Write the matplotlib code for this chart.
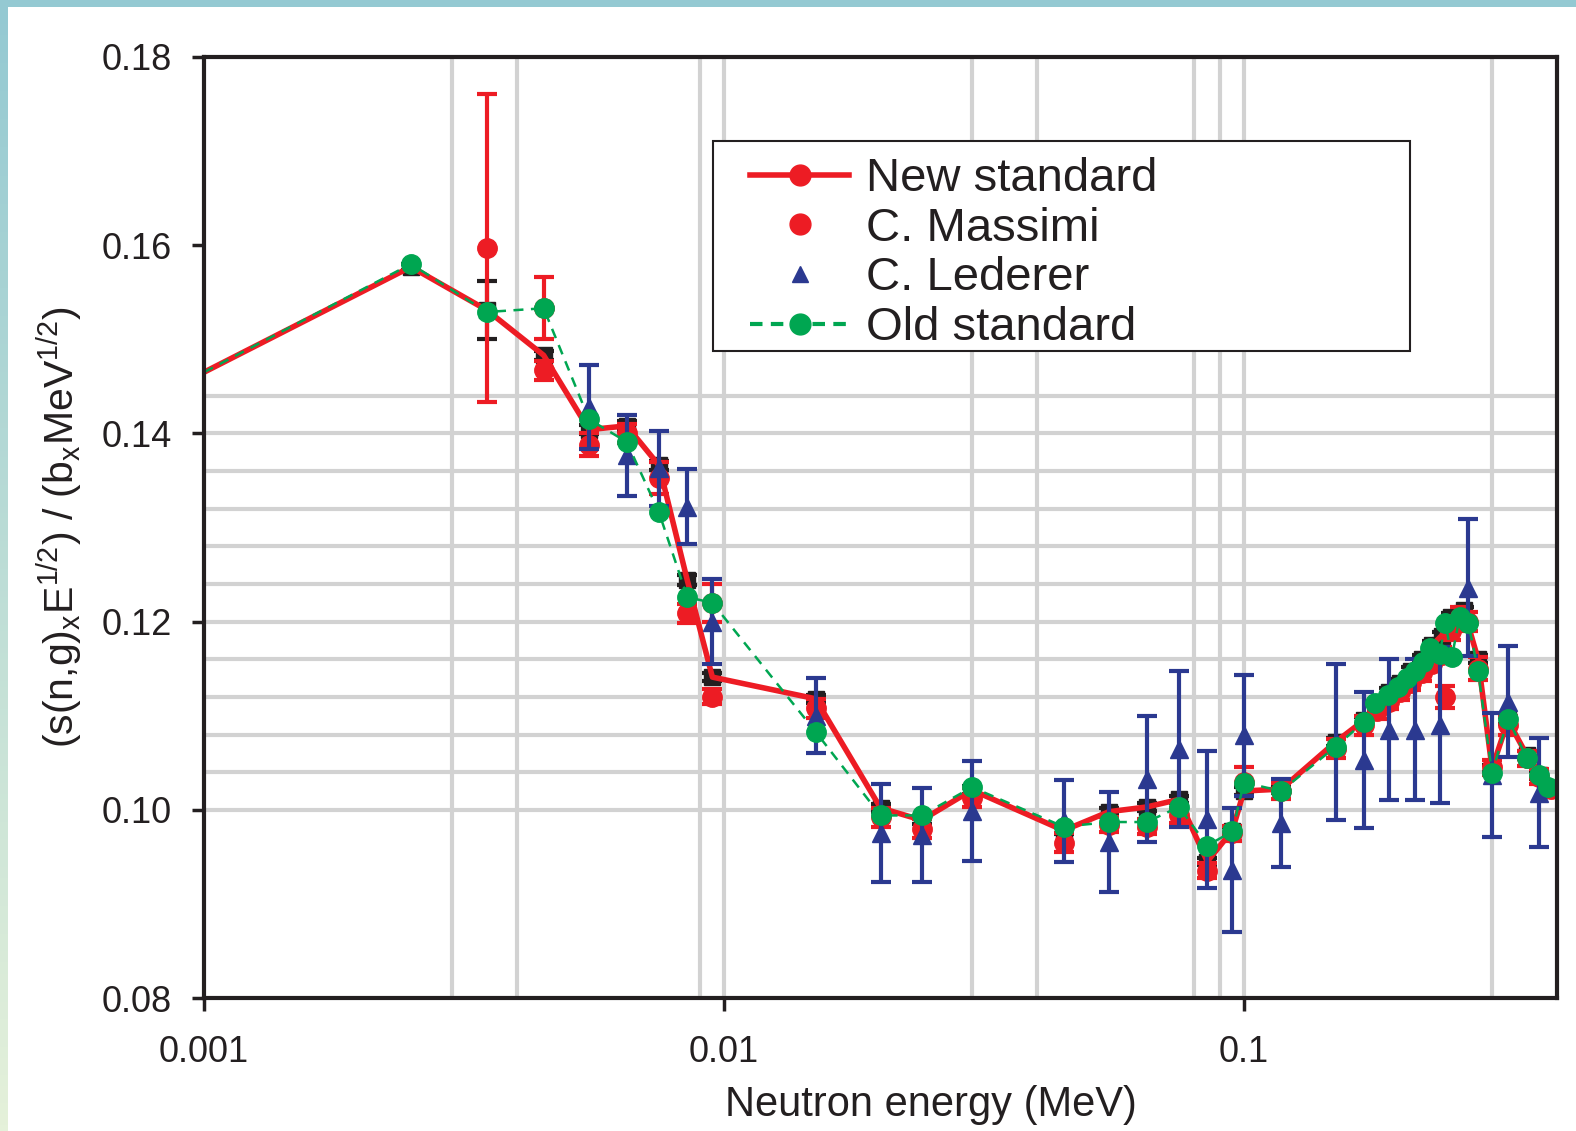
import numpy as np
import matplotlib
matplotlib.use('Agg')
import matplotlib.pyplot as plt
from matplotlib.lines import Line2D
from matplotlib.patches import Rectangle
from matplotlib.ticker import NullLocator

plt.rcParams['font.family'] = ['Liberation Sans', 'DejaVu Sans']
plt.rcParams['mathtext.fontset'] = 'custom'
plt.rcParams['mathtext.rm'] = 'Liberation Sans'
plt.rcParams['mathtext.it'] = 'Liberation Sans:italic'
plt.rcParams['mathtext.default'] = 'regular'

# ---------------- data ----------------
# New standard (red line; black squares with small error bars underneath)
new_E = [0.001, 0.0025, 0.0035, 0.0045, 0.0055, 0.0065, 0.0075, 0.0085, 0.0095,
         0.015, 0.02, 0.024, 0.03, 0.045, 0.055, 0.065, 0.075, 0.085, 0.095, 0.1,
         0.118, 0.15, 0.17, 0.18, 0.19, 0.2, 0.21, 0.22, 0.23, 0.24, 0.25, 0.265,
         0.282, 0.3, 0.322, 0.35, 0.37, 0.39]
new_val = [0.1465, 0.1577, 0.1531, 0.1483, 0.1404, 0.1408, 0.1366, 0.1244, 0.1141,
           0.1118, 0.1002, 0.0989, 0.1021, 0.0978, 0.0998, 0.1003, 0.1011, 0.0945, 0.0978, 0.1020,
           0.1022, 0.1072, 0.1095, 0.1110, 0.1125, 0.1135, 0.1148, 0.1160, 0.1175, 0.1185, 0.1205, 0.1212,
           0.1160, 0.1044, 0.1095, 0.1058, 0.1037, 0.1022]
new_err = [0.0, 0.0003, 0.0031, 0.0005, 0.0005, 0.0005, 0.0005, 0.0005, 0.0004,
           0.0004, 0.0004, 0.0004, 0.0004, 0.0004, 0.0004, 0.0004, 0.0004, 0.0004, 0.0004, 0.0004,
           0.0004, 0.0004, 0.0004, 0.0004, 0.0004, 0.0004, 0.0004, 0.0004, 0.0004, 0.0004, 0.0004, 0.0004,
           0.0004, 0.0004, 0.0004, 0.0004, 0.0004, 0.0004]

# C. Massimi (red circles)
mas_E = [0.0035, 0.0045, 0.0045, 0.0055, 0.0065, 0.0075, 0.0085, 0.0095, 0.0095,
         0.015, 0.02, 0.024, 0.03, 0.045, 0.055, 0.065, 0.075, 0.085, 0.095, 0.1,
         0.118, 0.15, 0.17, 0.18, 0.19, 0.2, 0.21, 0.22, 0.23, 0.24, 0.244, 0.25,
         0.26, 0.27, 0.282, 0.3, 0.322, 0.35, 0.37, 0.39]
mas_val = [0.1597, 0.1467, 0.1533, 0.1388, 0.1400, 0.1353, 0.1209, 0.1120, 0.1220,
           0.1108, 0.0992, 0.0980, 0.1013, 0.0965, 0.0984, 0.0982, 0.0994, 0.0935, 0.0975, 0.1030,
           0.1020, 0.1065, 0.1090, 0.1105, 0.1115, 0.1125, 0.1135, 0.1145, 0.1155, 0.1165, 0.1120, 0.1190,
           0.1205, 0.1200, 0.1150, 0.1045, 0.1090, 0.1055, 0.1035, 0.1022]
mas_err = [0.0164, 0.0010, 0.0033, 0.0012, 0.0010, 0.0017, 0.0010, 0.0008, 0.0020,
           0.0010, 0.0010, 0.0010, 0.0010, 0.0010, 0.0008, 0.0008, 0.0008, 0.0008, 0.0008, 0.0015,
           0.0008, 0.0010, 0.0010, 0.0008, 0.0008, 0.0008, 0.0008, 0.0008, 0.0008, 0.0008, 0.0012, 0.0010,
           0.0010, 0.0010, 0.0012, 0.0008, 0.0010, 0.0008, 0.0008, 0.0008]

# C. Lederer (blue triangles)
led_E = [0.0055, 0.0065, 0.0075, 0.0085, 0.0095, 0.015, 0.02, 0.024, 0.03, 0.045,
         0.055, 0.065, 0.075, 0.085, 0.095, 0.1, 0.118, 0.15, 0.17, 0.19, 0.213, 0.238,
         0.27, 0.3, 0.322, 0.37]
led_val = [0.1428, 0.1377, 0.1363, 0.1322, 0.1200, 0.1100, 0.0975, 0.0973, 0.0999, 0.0988,
           0.0966, 0.1033, 0.1065, 0.0990, 0.0936, 0.1079, 0.0986, 0.1072, 0.1053, 0.1085, 0.1085, 0.1090,
           0.1236, 0.1037, 0.1115, 0.1018]
led_err = [0.0045, 0.0043, 0.0040, 0.0040, 0.0045, 0.0040, 0.0052, 0.0050, 0.0053, 0.0044,
           0.0053, 0.0067, 0.0083, 0.0073, 0.0066, 0.0064, 0.0047, 0.0083, 0.0072, 0.0075, 0.0075, 0.0083,
           0.0073, 0.0066, 0.0059, 0.0058]

# Old standard (green dashed)
old_E = [0.001, 0.0025, 0.0035, 0.0045, 0.0055, 0.0065, 0.0075, 0.0085, 0.0095,
         0.015, 0.02, 0.024, 0.03, 0.045, 0.055, 0.065, 0.075, 0.085, 0.095, 0.1,
         0.118, 0.15, 0.17, 0.179, 0.189, 0.198, 0.206, 0.213, 0.221, 0.228, 0.238,
         0.244, 0.251, 0.26, 0.27, 0.282, 0.3, 0.322, 0.35, 0.37, 0.385]
old_val = [0.1465, 0.1580, 0.1529, 0.1533, 0.1415, 0.1391, 0.1316, 0.1226, 0.1220,
           0.1083, 0.0994, 0.0994, 0.1024, 0.0982, 0.0987, 0.0987, 0.1003, 0.0962, 0.0977, 0.1029,
           0.1020, 0.1067, 0.1093, 0.1114, 0.1122, 0.1130, 0.1140, 0.1148, 0.1157, 0.1172, 0.1166,
           0.1199, 0.1162, 0.1205, 0.1199, 0.1148, 0.1039, 0.1097, 0.1055, 0.1037, 0.1024]

x_ticks = [0.001, 0.01, 0.1]
x_tick_labels = ['0.001', '0.01', '0.1']
y_ticks = [0.08, 0.10, 0.12, 0.14, 0.16, 0.18]
y_tick_labels = ['0.08', '0.10', '0.12', '0.14', '0.16', '0.18']
grid_x = [0.003, 0.004, 0.009, 0.01, 0.03, 0.04, 0.08, 0.09, 0.1, 0.3]
grid_y = [0.100, 0.104, 0.108, 0.112, 0.116, 0.120, 0.124, 0.128, 0.132,
          0.136, 0.140, 0.144]
labels = ['New standard', 'C. Massimi', 'C. Lederer', 'Old standard']

# ---------------- styles ----------------
RED = '#ed1c24'
BLUE = '#2b3990'
GREEN = '#00a651'
BLACK = '#231f20'
GRID = '#d2d2d2'
TXT = '#231f20'

W, H = 1576, 1131
fig = plt.figure(figsize=(W / 100, H / 100), dpi=100)
fig.patch.set_facecolor('white')

# slide border (top teal band, left gradient band)
fig.add_artist(Rectangle((0, 1 - 7 / H), 1, 7 / H, transform=fig.transFigure,
                         facecolor='#94c9d2', edgecolor='none', zorder=0))
bax = fig.add_axes([0, 0, 7 / W, 1 - 7 / H])
top_c = np.array([148, 201, 210]) / 255
bot_c = np.array([229, 241, 218]) / 255
t = np.linspace(0, 1, 200)[:, None]
grad = (top_c[None, :] * (1 - t) + bot_c[None, :] * t)[:, None, :]
bax.imshow(grad, aspect='auto', extent=[0, 1, 0, 1])
bax.axis('off')

ax = fig.add_axes([204 / W, 1 - 998 / H, (1557 - 204) / W, (998 - 57) / H])
ax.set_xscale('log')
ax.set_xlim(0.001, 0.4)
ax.set_ylim(0.08, 0.18)

for gx in grid_x:
    ax.axvline(gx, color=GRID, lw=3, zorder=1)
for gy in grid_y:
    ax.axhline(gy, color=GRID, lw=3, zorder=1)

# black squares (new standard points)
ax.errorbar(new_E[1:], new_val[1:], yerr=new_err[1:], fmt='s', color=BLACK,
            ms=11, elinewidth=3, capsize=7, capthick=3, zorder=3)
# Massimi
ax.errorbar(mas_E, mas_val, yerr=mas_err, fmt='o', color=RED, ms=14,
            elinewidth=3, capsize=7, capthick=3, zorder=4)
# new standard line
ax.plot(new_E, new_val, '-', color=RED, lw=4, zorder=5)
# Lederer
ax.errorbar(led_E, led_val, yerr=led_err, fmt='^', color=BLUE, ms=13,
            elinewidth=3, capsize=7, capthick=3, zorder=6)
# old standard
ax.plot(old_E, old_val, ls=(0, (4, 3)), color=GREEN, lw=1.8, marker='o',
        ms=14, markevery=slice(1, None), zorder=7)

ax.set_xticks(x_ticks)
ax.set_xticklabels(x_tick_labels)
ax.xaxis.set_minor_locator(NullLocator())
ax.set_yticks(y_ticks)
ax.set_yticklabels(y_tick_labels)
ax.tick_params(direction='out', length=9, width=2.5, labelsize=26, pad=14,
               colors=BLACK, labelcolor=TXT)
ax.tick_params(axis='x', pad=18)
for s in ax.spines.values():
    s.set_linewidth(3)
    s.set_color(BLACK)
    s.set_zorder(12)

ax.set_xlabel('Neutron energy (MeV)', fontsize=30, color=TXT)
ax.xaxis.set_label_coords(0.537, -0.114)
ax.xaxis.label.set_va('center')
ax.set_ylabel(r'(s(n,g)$_{\rm x}$E$^{1/2}$) / (b$_{\rm x}$MeV$^{1/2}$)',
              fontsize=29.5, color=TXT)
ax.yaxis.set_label_coords(-0.1064, 0.5)
ax.yaxis.label.set_va('center')

# legend
box = Rectangle((0.3762, 0.6876), 0.5150, 0.2232, transform=ax.transAxes,
                facecolor='white', edgecolor=BLACK, lw=1.5, zorder=9)
ax.add_patch(box)
handles = [
    Line2D([], [], color=RED, lw=4, marker='o', ms=15),
    Line2D([], [], ls='none', color=RED, marker='o', ms=15),
    Line2D([], [], ls='none', color=BLUE, marker='^', ms=11),
    Line2D([], [], color=GREEN, lw=3, ls=(0, (3, 2)), marker='o', ms=15),
]
leg = ax.legend(handles, labels, loc='upper left',
                bbox_to_anchor=(0.4035, 0.8937), frameon=False, fontsize=34,
                borderpad=0, borderaxespad=0, handlelength=2.1,
                handletextpad=0.35, labelspacing=0.12)
for txt in leg.get_texts():
    txt.set_color(TXT)
leg.set_zorder(10)

fig.savefig('out.png', dpi=100)
